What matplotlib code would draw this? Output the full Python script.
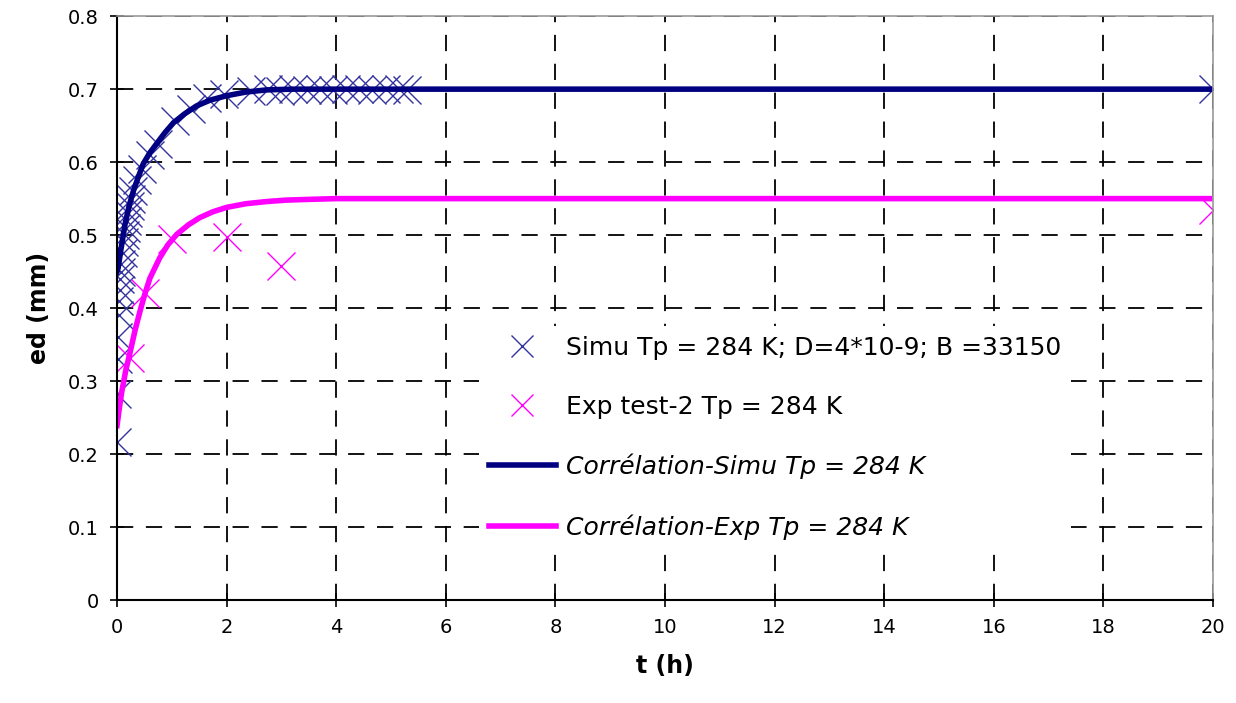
import numpy as np
import matplotlib
matplotlib.use("Agg")
import matplotlib.pyplot as plt

# Points de simulation (t en h, ed en mm)
t_simu = [0.0, 0.0, 0.01, 0.02, 0.03, 0.04, 0.05, 0.06, 0.07, 0.08, 0.10, 0.12,
          0.14, 0.16, 0.18, 0.20, 0.23, 0.26, 0.30, 0.36, 0.45, 0.60, 0.75,
          1.05, 1.35, 1.65, 1.95, 2.45, 2.75, 2.98, 3.22, 3.46, 3.70, 3.94,
          4.18, 4.42, 4.66, 4.90, 5.14, 5.30, 20.0]
ed_simu = [0.217, 0.282, 0.33, 0.36, 0.39, 0.41, 0.425, 0.44, 0.45, 0.46, 0.475,
           0.49, 0.50, 0.51, 0.52, 0.53, 0.54, 0.55, 0.56, 0.575, 0.59, 0.61,
           0.625, 0.656, 0.673, 0.688, 0.694, 0.698, 0.700, 0.698, 0.700, 0.699,
           0.700, 0.699, 0.700, 0.700, 0.699, 0.700, 0.700, 0.699, 0.700]

# Points expérimentaux
t_exp = [0.24, 0.51, 1.0, 2.0, 3.0, 20.0]
ed_exp = [0.331, 0.42, 0.494, 0.497, 0.457, 0.535]

# Courbes de corrélation
t_corr_simu = [0.0, 0.02, 0.07, 0.146, 0.22, 0.30, 0.39, 0.48, 0.60, 0.72, 0.87,
               1.03, 1.23, 1.45, 1.70, 2.0, 2.35, 2.73, 3.2, 4.0, 6.0, 10.0, 20.0]
ed_corr_simu = [0.45, 0.455, 0.48, 0.515, 0.54, 0.561, 0.58, 0.598, 0.613, 0.625,
                0.64, 0.654, 0.666, 0.677, 0.685, 0.691, 0.696, 0.699, 0.700,
                0.700, 0.700, 0.700, 0.700]
t_corr_exp = [0.0, 0.04, 0.085, 0.16, 0.24, 0.33, 0.42, 0.51, 0.60, 0.78, 0.93,
              1.09, 1.30, 1.51, 1.75, 2.0, 2.35, 2.73, 3.1, 3.52, 4.0, 6.0, 10.0, 20.0]
ed_corr_exp = [0.239, 0.262, 0.285, 0.315, 0.34, 0.37, 0.396, 0.42, 0.441, 0.469,
               0.487, 0.501, 0.514, 0.524, 0.532, 0.538, 0.543, 0.546, 0.548,
               0.549, 0.550, 0.550, 0.550, 0.550]

x_ticks = np.arange(0, 21, 2)
y_ticks = np.round(np.arange(0, 0.81, 0.1), 1)

bleu = "#000080"
rose = "#FF00FF"

fig = plt.figure(figsize=(12.36, 7.03), dpi=100)
ax = fig.add_axes([0.0947, 0.1465, 0.8867, 0.8305])

ax.plot(t_simu, ed_simu, linestyle="none", marker="x", markersize=20,
        markeredgewidth=1.0, color="#3333A0",
        label="Simu Tp = 284 K; D=4*10-9; B =33150")
ax.plot(t_exp, ed_exp, linestyle="none", marker="x", markersize=20,
        markeredgewidth=1.0, color=rose, label="Exp test-2 Tp = 284 K")
ax.plot(t_corr_simu, ed_corr_simu, color=bleu, linewidth=4,
        label="Corrélation-Simu Tp = 284 K")
ax.plot(t_corr_exp, ed_corr_exp, color=rose, linewidth=4,
        label="Corrélation-Exp Tp = 284 K")

ax.set_xlim(0, 20)
ax.set_ylim(0, 0.8)
ax.set_xticks(x_ticks)
ax.set_yticks(y_ticks)
ax.set_xticklabels([str(v) for v in x_ticks])
ax.set_yticklabels(["0"] + [f"{v:.1f}" for v in y_ticks[1:]])
ax.tick_params(direction="inout", length=10, width=1.2, labelsize=14, pad=8)
ax.grid(True, color="black", linestyle=(0, (9, 7)), linewidth=1.3)
ax.set_axisbelow(True)

for s in ["left", "bottom"]:
    ax.spines[s].set_color("black")
    ax.spines[s].set_linewidth(1.5)
for s in ["top", "right"]:
    ax.spines[s].set_color("#999999")
    ax.spines[s].set_linewidth(1.2)

ax.set_xlabel("t (h)", fontsize=17, fontweight="bold", labelpad=12)
ax.set_ylabel("ed (mm)", fontsize=17, fontweight="bold", labelpad=12)

# légende sur fond blanc, sans cadre
leg = ax.legend(loc="upper left", bbox_to_anchor=(0.33, 0.47), frameon=True,
                fancybox=False, facecolor="white", edgecolor="none",
                framealpha=1.0, fontsize=18, handlelength=2.7,
                handletextpad=0.4, labelspacing=1.4, borderaxespad=0,
                markerscale=0.8)
for txt in leg.get_texts()[2:]:
    txt.set_style("italic")

fig.savefig("out.png", dpi=100)
